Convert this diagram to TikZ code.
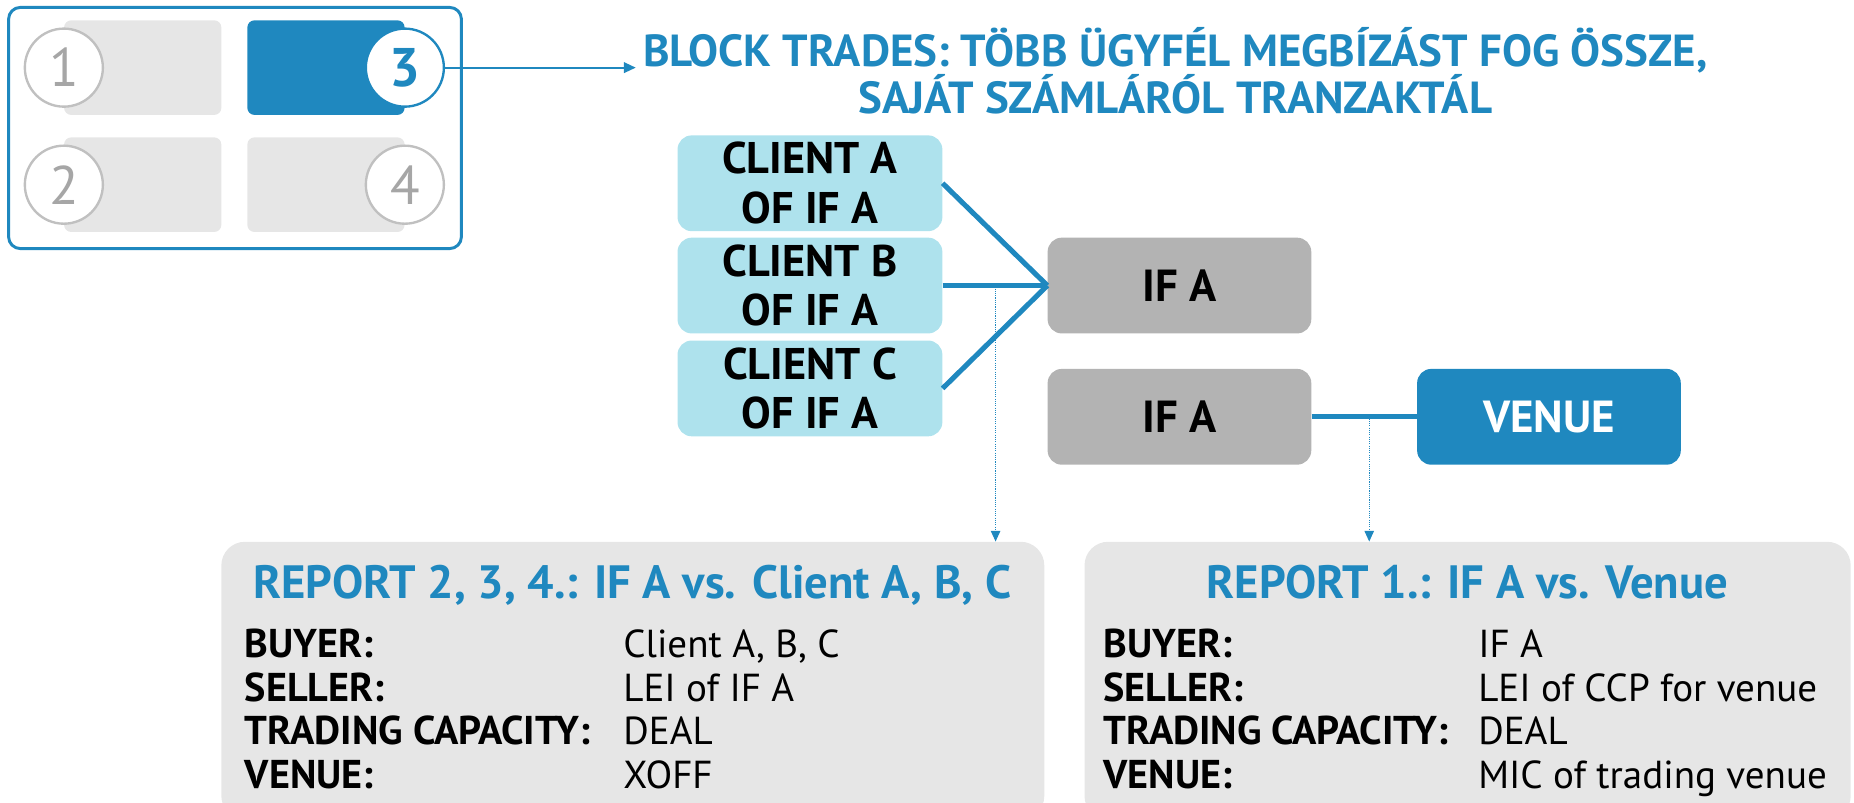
\documentclass[tikz,border=0pt]{standalone}
\usepackage{fontspec}
\setmainfont{PT Sans}
\usetikzlibrary{arrows.meta}
\definecolor{ablue}{HTML}{1F88BF}
\definecolor{lgray}{HTML}{E6E6E6}
\definecolor{cgray}{HTML}{C0C0C0}
\definecolor{ngray}{HTML}{A6A6A6}
\definecolor{cyanbox}{HTML}{AEE2ED}
\definecolor{gbox}{HTML}{B3B3B3}
\begin{document}
\begin{tikzpicture}[x=1pt,y=-1pt,
  lgbox/.style={fill=lgray, rounded corners=6pt},
  numc/.style={circle, draw=cgray, line width=2pt, fill=white, minimum size=66pt, inner sep=0pt, text=ngray, font=\fontsize{46}{46}\selectfont},
  numsel/.style={numc, draw=ablue, text=ablue, font=\bfseries\fontsize{46}{46}\selectfont},
  client/.style={fill=cyanbox, rounded corners=12pt, minimum width=224pt, minimum height=81pt, inner sep=0pt, align=center, font=\bfseries\fontsize{37.5}{42}\selectfont},
  ifbox/.style={fill=gbox, rounded corners=12pt, minimum width=223pt, minimum height=81pt, inner sep=0pt, font=\bfseries\fontsize{38}{42}\selectfont},
  venbox/.style={ifbox, fill=ablue, text=white},
  conn/.style={draw=ablue, line width=4.3pt},
  dotarr/.style={draw=ablue, densely dotted, line width=0.9pt, -{Triangle[length=9pt,width=8pt]}},
  repbox/.style={fill=lgray, rounded corners=20pt, minimum height=235pt, inner sep=0pt, anchor=north west},
  reptitle/.style={text=ablue, font=\bfseries\fontsize{39.5}{39.5}\selectfont, anchor=base},
  lab/.style={anchor=base west, inner sep=0pt, font=\bfseries\fontsize{34}{34}\selectfont},
  val/.style={anchor=base west, inner sep=0pt, font=\fontsize{33}{33}\selectfont}
]
\useasboundingbox (0,0) rectangle (1568,679);
\clip (0,0) rectangle (1568,679);

% legend
\node[draw=ablue, line width=2.5pt, rounded corners=10pt, minimum width=383pt, minimum height=204pt, anchor=north west, inner sep=0pt] (frame) at (6,5) {};
\node[lgbox, minimum width=133pt, minimum height=80pt, anchor=north west, inner sep=0pt] (b1) at (54,17) {};
\node[lgbox, fill=ablue, minimum width=133pt, minimum height=80pt, anchor=north west, inner sep=0pt] (b3) at (209,17) {};
\node[lgbox, minimum width=133pt, minimum height=80pt, anchor=north west, inner sep=0pt] (b2) at (54,116) {};
\node[lgbox, minimum width=133pt, minimum height=80pt, anchor=north west, inner sep=0pt] (b4) at (209,116) {};
\node[numc] (c1) at (b1.west) {1};
\node[numc] (c2) at (b2.west) {2};
\node[numsel] (c3) at (b3.east) {3};
\node[numc] (c4) at (b4.east) {4};

% title
\node[text=ablue, align=center, font=\bfseries\fontsize{38}{37}\selectfont, inner sep=6pt] (title) at (994,60)
  {BLOCK TRADES: TÖBB ÜGYFÉL MEGBÍZÁST FOG ÖSSZE,\\SAJÁT SZÁMLÁRÓL TRANZAKTÁL};
\draw[ablue, line width=1.5pt, -{Triangle[length=10pt,width=9pt]}] (c3.east) -- (c3.east -| title.west);

% clients
\node[client] (ca) at (685,155) {CLIENT A\\OF IF A};
\node[client] (cb) at (685,241.5) {CLIENT B\\OF IF A};
\node[client] (cc) at (685,328.5) {CLIENT C\\OF IF A};
\node[ifbox] (ifa) at (997.5,241.5) {IF A};
\node[ifbox] (ifb) at (997.5,352.5) {IF A};
\node[venbox] (ven) at (1310,352.5) {VENUE};

\draw[conn] (ca.east) -- (ifa.west);
\draw[conn] (cb.east) -- (ifa.west);
\draw[conn] (cc.east) -- (ifa.west);
\draw[conn] (ifb.east) -- (ven.west);

% report boxes
\node[repbox, minimum width=696pt] (rl) at (187,458) {};
\node[repbox, minimum width=648pt] (rr) at (917,458) {};

\coordinate (d1) at (842,244);
\coordinate (d2) at (1158,354);
\draw[dotarr] (d1) -- (d1 |- rl.north);
\draw[dotarr] (d2) -- (d2 |- rr.north);

\node[reptitle] (rlt) at (535,506) {REPORT 2, 3, 4.: IF A vs. Client A, B, C};
\node[lab] (l1) at (207,556) {BUYER:};
\node[lab] (l2) at (207,593) {SELLER:};
\node[lab] (l3) at (207,630) {TRADING CAPACITY:};
\node[lab] (l4) at (207,667) {VENUE:};
\node[val] (v1) at (527,556) {Client A, B, C};
\node[val] (v2) at (527,593) {LEI of IF A};
\node[val] (v3) at (527,630) {DEAL};
\node[val] (v4) at (527,667) {XOFF};

\node[reptitle] (rrt) at (1241,506) {REPORT 1.: IF A vs. Venue};
\node[lab] (m1) at (933,556) {BUYER:};
\node[lab] (m2) at (933,593) {SELLER:};
\node[lab] (m3) at (933,630) {TRADING CAPACITY:};
\node[lab] (m4) at (933,667) {VENUE:};
\node[val] (w1) at (1250,556) {IF A};
\node[val] (w2) at (1250,593) {LEI of CCP for venue};
\node[val] (w3) at (1250,630) {DEAL};
\node[val] (w4) at (1250,667) {MIC of trading venue};
\end{tikzpicture}
\end{document}
